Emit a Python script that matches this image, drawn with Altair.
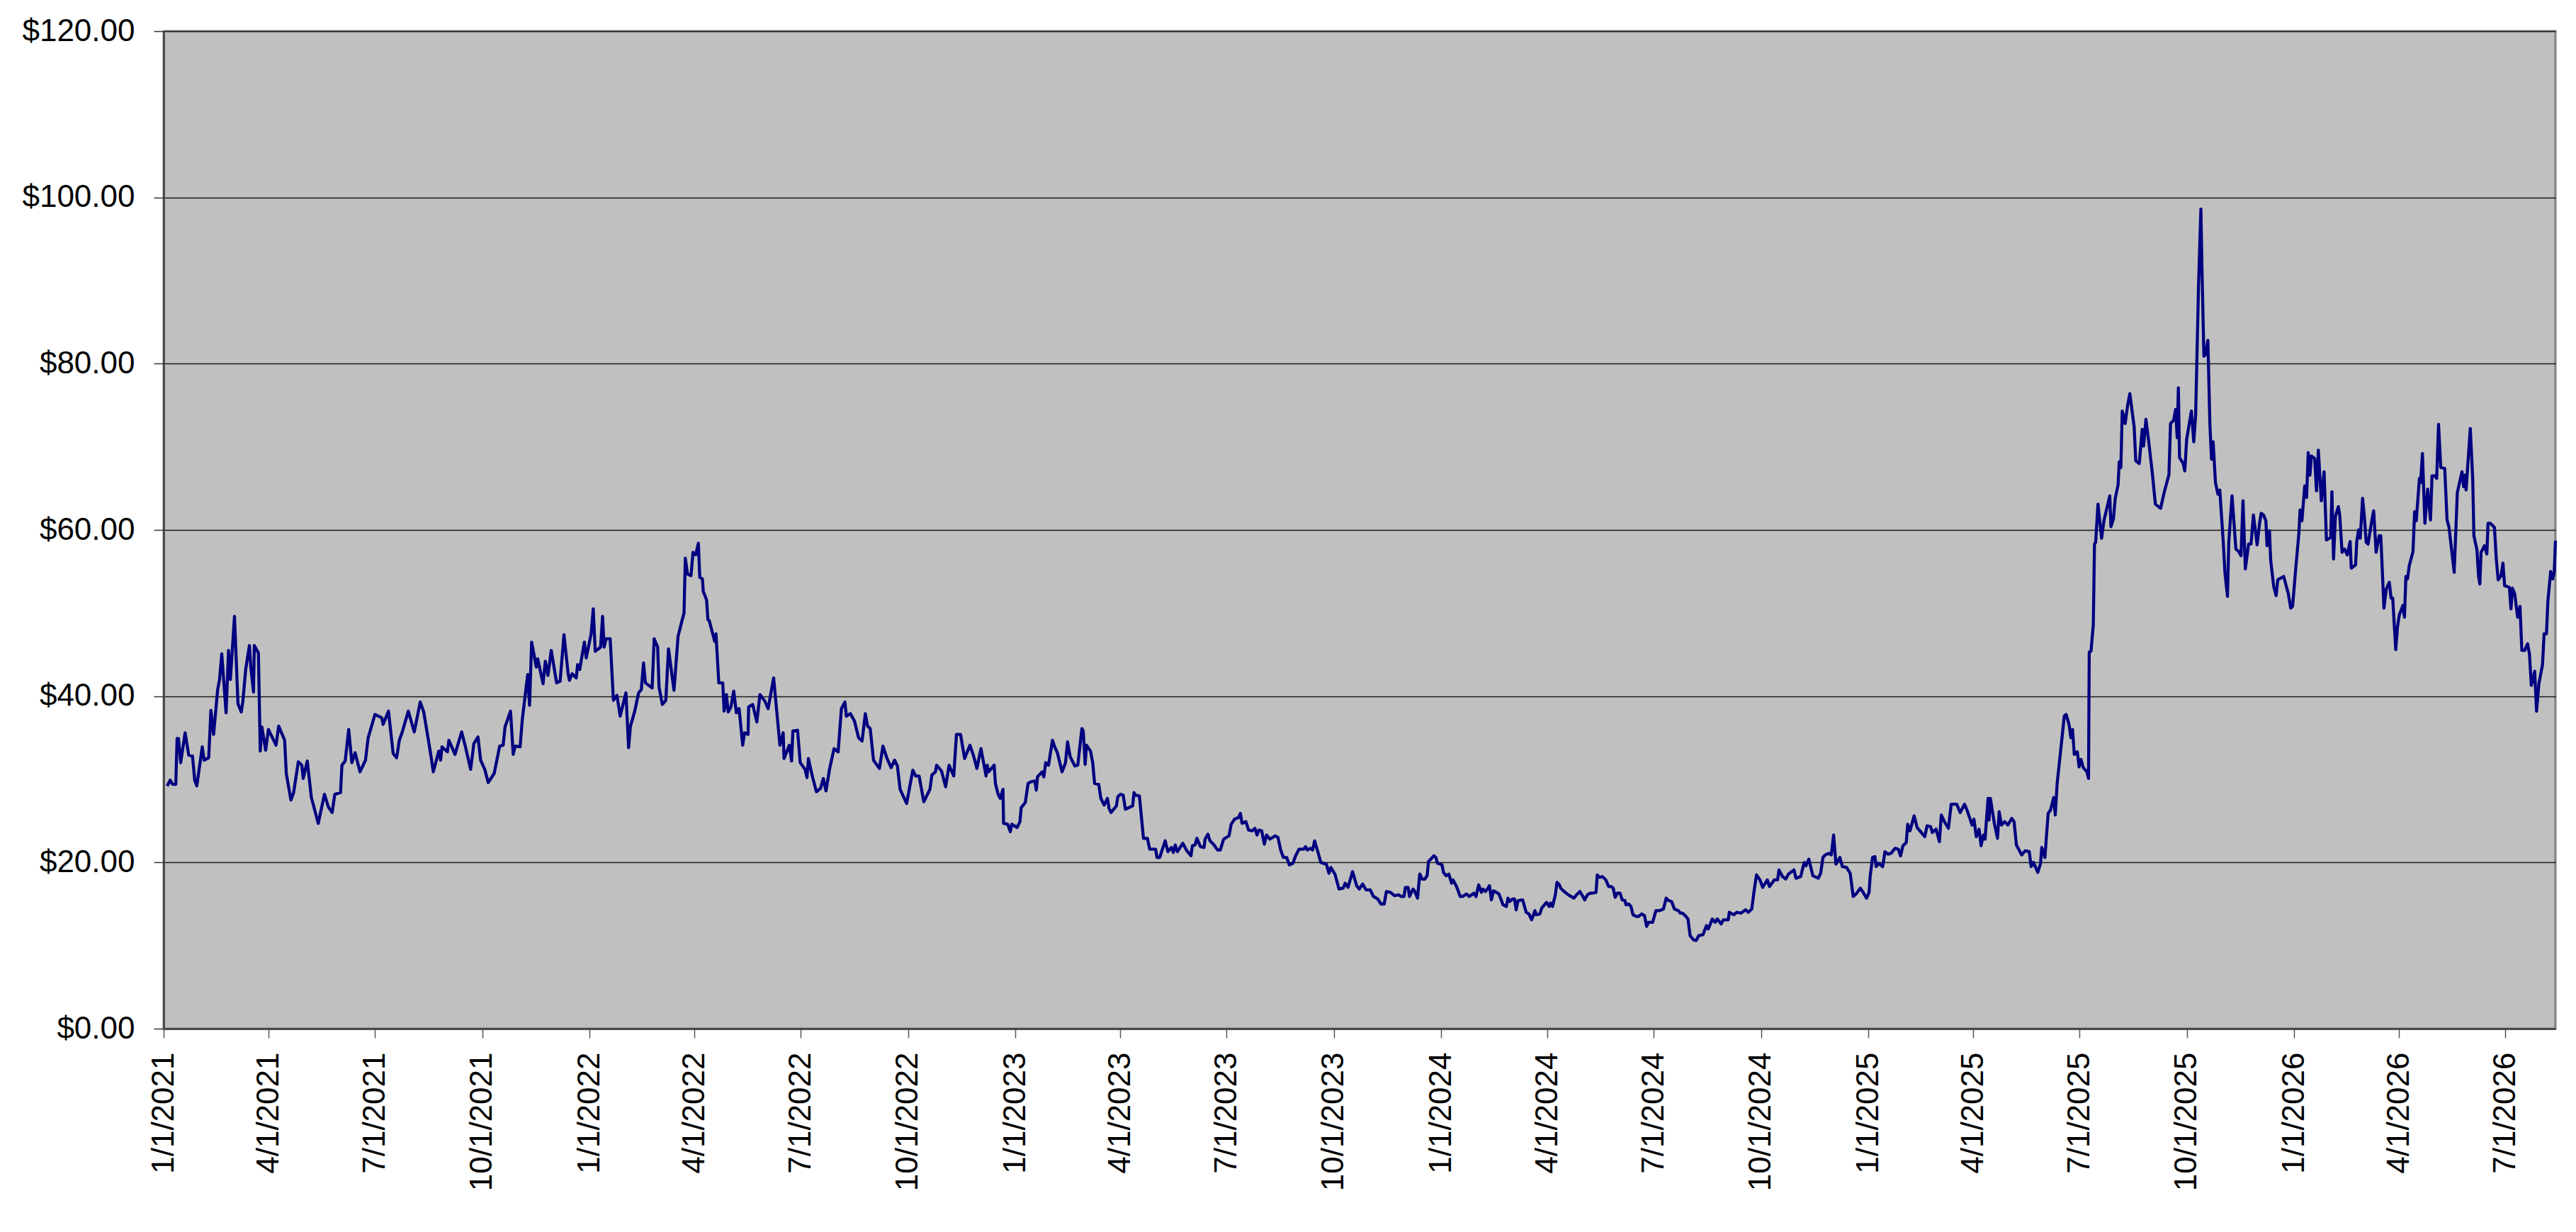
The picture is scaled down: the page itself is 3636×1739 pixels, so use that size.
import altair as alt
import pandas as pd

# ---- data (day offset from 1/1/2021, price in $) ----
days_a = [3, 5.6, 7.6, 10.4, 11.5, 12.7, 14.6, 18.4, 21.5, 24.7,
          26.6, 28.4, 33.1, 34.7, 38.6, 40.5, 42.8, 46.3, 47.9, 49.8,
          53.5, 55.6, 57.2, 60.7, 63.7, 66.5, 67.9, 70.3, 73.5, 74.7,
          77.0, 77.7, 81.2, 82.8, 84.2, 87.4, 89.8, 96.3, 98.6, 103.7,
          105.1, 109.1, 111.4, 115.4, 118.4, 119.6, 123.1, 126.6, 132.5, 137.8,
          141.1, 144.4, 146.7, 151.6, 152.8, 155.6, 158.6, 161.3, 164.1, 168.3,
          173.0, 175.3, 181.1, 186.9, 188.1, 192.7, 196.7, 199.7, 202.0, 204.3,
          209.7, 214.8, 219.9, 222.9, 228.8, 231.1, 235.8, 237.4, 238.6, 243.2,
          244.5, 249.7, 255.4, 258.5, 263.1, 265.9, 269.4, 271.7, 275.2, 278.2,
          283.3, 288.0, 291.0, 292.6, 297.3, 299.6, 301.3, 305.5, 307.4, 312.0,
          313.6, 315.4, 319.4, 320.6, 325.2, 327.1, 329.4, 332.2, 336.8, 339.8,
          343.1]
prices_a = [29.2, 29.9, 29.4, 29.4, 34.9, 34.9, 32.0, 35.6, 32.9, 32.8,
            29.9, 29.2, 33.9, 32.3, 32.6, 38.3, 35.4, 40.8, 42.0, 45.1,
            38.0, 45.5, 42.0, 49.6, 39.1, 38.1, 39.4, 43.2, 46.1, 43.5,
            40.5, 46.1, 45.2, 33.4, 36.3, 33.5, 36.0, 34.1, 36.4, 34.7,
            30.7, 27.5, 28.4, 32.1, 31.7, 30.1, 32.2, 27.8, 24.7, 28.2,
            26.7, 26.0, 28.2, 28.4, 31.7, 32.2, 36.0, 32.0, 33.2, 30.9,
            32.3, 35.0, 37.8, 37.4, 36.6, 38.2, 33.1, 32.6, 34.7, 35.6,
            38.2, 35.7, 39.3, 38.1, 33.1, 30.9, 33.4, 32.3, 33.9, 33.3,
            34.7, 33.0, 35.7, 34.0, 31.2, 34.3, 35.1, 32.3, 31.2, 29.6,
            30.7, 34.0, 34.1, 36.3, 38.2, 33.0, 34.0, 33.9, 37.2, 42.6,
            38.9, 46.5, 43.5, 44.5, 41.5, 44.2, 42.5, 45.5, 41.6, 41.8,
            47.4]

days_b = [346.6, 347.8, 350.1, 353.6, 354.8, 356.6, 360.6, 362.2, 366.4, 368.2,
          369.9, 374.5, 376.2, 377.5, 379.2, 382.7, 385.5, 388.5, 391.3, 396.2,
          398.5, 400.1, 403.6, 407.1, 409.4, 411.3, 412.9, 418.7, 420.4, 423.4,
          424.6, 427.4, 430.4, 432.7, 437.4, 440.9, 444.3, 446.0, 447.1, 449.0,
          452.0, 453.7, 456.0, 458.3, 459.5, 461.8, 462.5, 465.3, 466.5, 467.6,
          472.3, 473.4, 475.8, 479.2, 480.4, 482.3, 483.9, 486.2, 488.6, 490.9,
          493.2, 496.3, 497.9, 500.9, 501.4, 504.9, 508.4, 511.1, 515.3, 518.1,
          522.8, 528.2, 531.0, 531.7, 536.3, 538.2, 539.3, 543.3, 545.6, 549.8,
          551.4, 552.6, 556.1, 559.5, 563.0, 565.4, 567.7, 570.7, 574.6, 578.1,
          580.9, 583.9, 585.1, 588.6, 592.1, 595.6, 598.6, 601.4, 603.3, 605.6,
          608.4, 613.5, 616.5, 620.0, 623.5, 626.5, 628.9, 631.2, 636.8, 642.1,
          644.5, 647.5, 651.5, 656.8, 658.4, 661.5, 662.5, 666.7, 670.2, 673.2,
          677.2, 679.5, 683.0, 686.5, 691.1, 694.2, 697.0, 700.5]
prices_b = [42.8, 41.9, 42.7, 42.2, 43.8, 43.2, 46.5, 44.6, 47.5, 50.5,
            45.4, 45.9, 49.6, 45.9, 46.9, 46.9, 39.5, 40.1, 37.6, 40.4,
            33.8, 36.4, 38.1, 40.4, 40.8, 44.0, 41.6, 41.0, 46.9, 45.9,
            41.1, 39.0, 39.5, 45.7, 40.7, 47.2, 49.1, 50.0, 56.6, 54.7,
            54.5, 57.3, 57.0, 58.4, 54.3, 54.1, 52.6, 51.6, 49.2, 49.1,
            46.6, 47.5, 41.6, 41.6, 38.2, 40.2, 38.1, 38.7, 40.6, 38.0,
            38.5, 34.1, 35.6, 35.4, 38.7, 39.0, 36.9, 40.2, 39.4, 38.5,
            42.2, 34.1, 35.6, 32.5, 34.1, 32.2, 35.8, 35.9, 32.0, 31.2,
            30.2, 32.5, 30.3, 28.5, 28.9, 30.1, 28.6, 31.2, 33.7, 33.3,
            38.5, 39.3, 37.6, 37.9, 37.0, 35.0, 34.6, 37.9, 36.4, 36.1,
            32.3, 31.3, 34.0, 32.5, 31.4, 32.3, 31.6, 28.8, 27.1, 31.1,
            30.4, 30.4, 27.3, 28.8, 30.5, 30.9, 31.7, 31.0, 29.1, 31.7,
            30.4, 35.4, 35.4, 32.5, 34.1, 32.8, 31.3, 33.7]

days_c = [704.9, 705.9, 707.1, 711.8, 712.9, 715.2, 717.1, 719.4, 719.9, 723.4,
          725.7, 726.9, 731.5, 733.9, 735.0, 738.5, 740.9, 743.2, 746.7, 747.9,
          749.0, 753.0, 754.4, 756.0, 758.4, 761.8, 763.7, 766.0, 770.0, 773.0,
          774.7, 777.0, 781.0, 783.5, 787.0, 788.2, 789.8, 791.0, 794.4, 796.3,
          797.9, 801.4, 803.3, 806.1, 808.9, 810.3, 812.0, 816.6, 817.8, 820.1,
          822.4, 824.3, 830.5, 831.7, 832.8, 836.3, 839.8, 843.2, 845.1, 850.2,
          851.4, 853.7, 858.4, 860.7, 863.7, 865.4, 867.0, 868.9, 873.5, 877.0,
          880.5, 881.7, 884.0, 885.6, 888.6, 891.7, 892.6, 895.0, 896.8, 900.3,
          903.3, 905.7, 908.5, 913.1, 915.0, 917.8, 921.3, 922.9, 924.3, 927.6,
          929.9, 932.9, 935.3, 937.1, 938.8, 941.1, 943.4, 945.3, 948.1, 952.7,
          955.1, 957.4, 959.7, 962.5, 964.8, 967.9, 970.2, 973.2, 977.2, 978.8,
          980.2, 983.0, 984.8, 986.5, 988.8, 991.8, 996.5, 998.8, 1000.4, 1003.9,
          1007.4, 1010.9, 1012.7, 1015.1, 1019.0, 1022.5, 1024.8, 1027.6, 1030.6, 1034.1,
          1036.9, 1040.6, 1043.4, 1046.1, 1048.0, 1051.5, 1055.0, 1058.5, 1060.8]
prices_c = [30.4, 31.7, 30.9, 31.7, 29.5, 28.2, 27.7, 28.8, 24.7, 24.6,
            23.7, 24.6, 24.2, 24.9, 26.6, 27.2, 29.5, 29.7, 29.8, 28.7,
            30.3, 30.9, 30.3, 32.0, 31.7, 34.7, 33.9, 33.2, 30.9, 32.0,
            34.5, 32.7, 31.6, 31.7, 36.1, 35.8, 31.8, 34.1, 33.4, 32.0,
            29.5, 29.4, 27.7, 26.9, 27.7, 26.5, 26.0, 26.8, 27.9, 28.2,
            28.1, 26.4, 26.8, 28.4, 28.1, 28.0, 22.9, 22.9, 21.6, 21.6,
            20.6, 20.6, 22.6, 21.3, 21.8, 21.2, 22.1, 21.3, 22.3, 21.4,
            20.8, 22.0, 22.1, 22.9, 21.9, 21.8, 22.8, 23.4, 22.6, 22.1,
            21.5, 21.5, 22.8, 23.2, 24.6, 25.2, 25.4, 25.9, 24.7, 24.9,
            23.9, 23.8, 24.1, 23.3, 23.9, 23.8, 22.2, 23.3, 22.8, 23.2,
            23.0, 21.5, 20.6, 20.6, 19.7, 19.9, 20.8, 21.6, 21.6, 21.9,
            21.5, 21.7, 21.5, 22.6, 21.5, 20.0, 19.8, 18.7, 19.4, 18.6,
            16.8, 16.9, 17.5, 17.0, 18.9, 17.2, 16.8, 17.4, 16.7, 16.7,
            15.9, 15.6, 15.0, 15.0, 16.5, 16.4, 16.0, 16.1, 15.9]

days_d = [1063.1, 1064.3, 1066.6, 1067.8, 1070.8, 1072.4, 1074.7, 1076.6, 1078.7, 1081.0,
          1082.9, 1084.1, 1088.7, 1090.4, 1091.8, 1095.7, 1096.9, 1099.2, 1101.5, 1103.9,
          1105.1, 1108.1, 1111.3, 1113.2, 1116.7, 1119.0, 1122.9, 1124.8, 1127.1, 1129.4,
          1130.6, 1132.9, 1136.4, 1138.0, 1139.9, 1144.5, 1148.0, 1150.8, 1152.2, 1153.8,
          1156.2, 1157.8, 1159.2, 1160.8, 1164.8, 1167.8, 1170.2, 1172.5, 1175.3, 1176.4,
          1179.5, 1181.1, 1185.3, 1187.6, 1188.8, 1190.4, 1192.8, 1194.2, 1196.3, 1197.4,
          1201.2, 1204.0, 1206.3, 1208.6, 1211.0, 1213.8, 1215.6, 1218.0, 1220.3, 1222.6,
          1224.5, 1227.7, 1228.7, 1230.8, 1233.1, 1236.1, 1238.5, 1240.8, 1242.4, 1244.1,
          1245.9, 1248.3, 1250.1, 1252.5, 1253.4, 1255.7, 1257.6, 1259.4, 1262.2, 1264.1,
          1266.9, 1269.2, 1271.1, 1272.7, 1276.2, 1279.0, 1282.0, 1285.5, 1287.8, 1290.1,
          1292.5, 1294.8, 1298.3, 1299.9, 1301.8, 1304.1, 1306.5, 1308.3, 1311.1, 1313.4,
          1315.8, 1319.3, 1322.3, 1323.9, 1327.4, 1329.8, 1331.6, 1334.9, 1336.8, 1341.0,
          1341.9, 1345.6, 1348.4, 1351.9, 1355.9, 1358.2, 1361.2, 1362.8, 1365.2, 1368.2,
          1370.5, 1374.5, 1376.3, 1380.5, 1383.3, 1384.5, 1387.5, 1390.3, 1392.6, 1397.3,
          1399.1, 1403.1, 1406.1, 1407.7, 1410.1, 1413.5, 1418.2]
prices_d = [15.9, 17.0, 17.0, 15.9, 16.8, 16.5, 15.7, 18.6, 18.0, 18.0,
            18.4, 20.1, 20.8, 20.6, 19.9, 19.7, 18.8, 18.4, 18.6, 17.5,
            17.9, 17.1, 15.9, 15.9, 16.2, 15.9, 16.3, 15.9, 17.3, 16.4,
            16.8, 16.5, 17.2, 15.5, 16.6, 16.2, 14.9, 14.7, 15.7, 15.3,
            15.6, 15.6, 14.3, 15.4, 15.5, 14.0, 13.8, 13.1, 14.2, 13.7,
            13.8, 14.5, 15.2, 14.7, 15.1, 14.7, 16.1, 17.6, 17.3, 16.9,
            16.4, 16.1, 15.9, 15.7, 16.1, 16.5, 16.1, 15.5, 16.1, 16.3,
            16.3, 16.4, 18.5, 18.2, 18.3, 17.9, 17.1, 17.1, 16.9, 15.8,
            16.3, 16.3, 15.5, 15.4, 14.9, 15.0, 14.7, 13.7, 13.5, 13.5,
            13.8, 13.6, 12.3, 12.8, 12.8, 14.2, 14.2, 14.4, 15.7, 15.4,
            15.3, 14.4, 14.2, 13.9, 13.9, 13.6, 13.2, 11.2, 10.7, 10.6,
            11.2, 11.3, 12.4, 12.0, 13.2, 12.8, 13.2, 12.6, 13.1, 13.1,
            14.0, 13.7, 14.0, 13.9, 14.3, 14.0, 14.4, 16.2, 18.5, 17.9,
            17.0, 17.9, 17.1, 17.9, 17.9, 19.1, 18.3, 18.0, 18.6, 19.1,
            18.1, 18.3, 20.0, 19.6, 20.4, 18.4, 18.1]

days_e = [1420.2, 1422.2, 1424.2, 1427.2, 1429.3, 1431.3, 1433.3, 1436.7, 1438.8, 1442.4,
          1445.5, 1448.1, 1450.5, 1454.2, 1456.6, 1459.6, 1461.7, 1462.7, 1464.7, 1466.7,
          1467.8, 1469.8, 1473.4, 1475.3, 1477.9, 1480.6, 1484.0, 1486.7, 1488.7, 1490.7,
          1493.6, 1494.8, 1496.8, 1500.3, 1502.9, 1505.3, 1509.4, 1511.4, 1514.5, 1515.9,
          1519.1, 1522.0, 1523.6, 1526.7, 1529.7, 1532.1, 1536.8, 1539.8, 1543.5, 1545.9,
          1550.0, 1551.6, 1553.6, 1556.0, 1557.7, 1559.7, 1561.1, 1563.7, 1564.5, 1565.7,
          1569.2, 1571.8, 1573.2, 1575.2, 1577.9, 1580.7, 1584.0, 1586.0, 1588.0, 1592.5,
          1595.5, 1599.0, 1600.6, 1602.6, 1606.3, 1608.7, 1609.7, 1612.4, 1615.2, 1617.2,
          1619.9, 1621.3, 1622.9, 1627.0, 1629.0, 1630.6, 1633.1, 1634.7, 1636.1, 1637.6,
          1640.2, 1641.7, 1643.3, 1645.3, 1648.4, 1649.8]
prices_e = [18.7, 20.6, 20.9, 21.1, 20.9, 23.3, 19.8, 20.6, 19.5, 19.4,
            18.7, 15.9, 16.2, 16.9, 16.4, 15.7, 16.4, 18.4, 20.6, 20.7,
            19.5, 19.9, 19.5, 21.3, 21.0, 21.1, 21.7, 21.6, 20.8, 22.0,
            22.4, 24.6, 23.8, 25.6, 24.2, 23.8, 23.1, 24.4, 24.3, 23.6,
            24.0, 22.5, 25.7, 24.8, 24.1, 27.0, 27.0, 26.0, 27.0, 26.2,
            24.5, 25.2, 23.1, 24.0, 22.0, 23.3, 22.8, 27.7, 25.1, 27.7,
            24.6, 22.9, 26.1, 24.5, 24.9, 24.5, 25.3, 24.9, 22.1, 20.9,
            21.4, 21.3, 19.5, 20.0, 18.8, 19.9, 21.8, 20.6, 25.9, 26.3,
            27.8, 25.7, 29.5, 34.9, 37.6, 37.8, 36.6, 35.0, 36.0, 33.0,
            33.3, 31.5, 32.4, 31.4, 30.9, 30.1]

days_f = [1650.4, 1651.9, 1653.9, 1654.9, 1655.9, 1657.9, 1661.0, 1663.0, 1668.0, 1669.0,
          1671.1, 1672.7, 1675.1, 1676.1, 1677.5, 1678.7, 1681.2, 1683.2, 1685.2, 1688.9,
          1690.3, 1693.3, 1695.8, 1697.0, 1699.0, 1701.5, 1704.5, 1707.1, 1711.6, 1714.6,
          1717.3, 1718.7, 1720.1, 1722.8, 1724.4, 1725.8, 1726.8, 1727.8, 1730.9, 1732.3,
          1733.9, 1738.0, 1740.0, 1741.6, 1744.1, 1746.1, 1747.1, 1748.7, 1750.1, 1752.1,
          1753.8, 1755.2, 1756.6, 1758.6, 1760.7, 1762.3, 1765.3, 1766.7, 1768.9, 1770.0,
          1772.8, 1776.1, 1778.5, 1780.5, 1782.2, 1784.2, 1787.0, 1789.1, 1791.1, 1794.3,
          1796.4, 1797.8, 1799.8, 1801.8, 1802.8, 1804.9, 1805.9, 1808.5, 1810.6, 1812.0,
          1817.1, 1821.1, 1823.1, 1824.7]
prices_f = [45.3, 45.4, 48.6, 58.3, 58.5, 63.1, 59.0, 61.1, 64.1, 60.4,
            61.3, 63.8, 65.4, 68.2, 67.5, 74.3, 72.8, 74.9, 76.4, 72.4,
            68.3, 68.0, 72.1, 70.1, 73.3, 70.5, 66.8, 63.1, 62.6, 64.5,
            65.9, 66.6, 72.8, 73.2, 74.5, 71.1, 77.1, 68.7, 68.0, 67.1,
            70.9, 74.3, 70.6, 73.8, 89.5, 98.6, 90.9, 80.9, 81.1, 82.8,
            72.8, 68.5, 70.6, 65.7, 64.3, 64.8, 58.5, 54.9, 52.0, 58.5,
            64.1, 57.7, 57.4, 56.9, 63.5, 55.3, 58.3, 58.3, 61.8, 58.2,
            60.8, 62.0, 61.8, 61.1, 58.1, 59.9, 56.4, 53.2, 52.1, 54.0,
            54.4, 52.3, 50.6, 50.8]

days_g = [1827.0, 1830.1, 1831.1, 1832.7, 1835.1, 1836.7, 1838.1, 1839.6, 1840.8, 1843.6,
          1845.2, 1846.8, 1849.3, 1851.7, 1853.7, 1857.4, 1858.4, 1859.8, 1861.4, 1863.9,
          1865.1, 1867.1, 1869.2, 1871.6, 1874.0, 1875.0, 1878.7, 1879.7, 1881.3, 1882.7,
          1884.7, 1886.2, 1887.8, 1889.4, 1892.2, 1894.2, 1896.3, 1898.9, 1900.3, 1903.0,
          1905.0, 1907.6, 1909.1, 1910.5, 1913.1, 1914.6, 1916.2, 1919.2, 1920.6, 1921.8,
          1923.2, 1924.7, 1927.9, 1929.3, 1930.7, 1933.4, 1934.4, 1936.0, 1938.1, 1940.5,
          1942.9, 1944.2, 1946.6, 1948.2, 1949.8, 1951.7, 1955.1, 1957.1, 1958.8, 1963.2,
          1965.9, 1969.9, 1971.3, 1972.6, 1973.4, 1977.0, 1979.1, 1980.1, 1982.7, 1984.1,
          1985.2, 1986.2, 1989.2, 1991.2, 1992.2, 1994.3, 1997.7, 1999.3, 2000.9, 2003.4,
          2005.0, 2006.4, 2010.5, 2011.9, 2013.1, 2015.1, 2017.6, 2019.6, 2021.2, 2023.6,
          2026.1, 2027.7, 2029.3, 2030.7, 2032.2, 2033.8, 2035.8, 2038.9, 2040.3, 2042.3,
          2043.5, 2045.9, 2047.6, 2049.0, 2050.0]
prices_g = [54.7, 59.6, 62.4, 61.1, 65.3, 63.9, 69.3, 66.6, 68.9, 68.6,
            64.7, 69.6, 63.5, 67.0, 58.8, 59.1, 64.6, 56.5, 61.6, 62.8,
            61.8, 57.3, 57.7, 57.0, 58.6, 55.4, 55.8, 58.6, 60.0, 59.0,
            63.8, 61.6, 58.5, 58.3, 60.8, 62.3, 57.3, 59.3, 59.3, 50.6,
            52.9, 53.7, 51.8, 51.8, 45.6, 48.3, 49.8, 50.9, 49.5, 54.4,
            54.1, 55.7, 57.4, 62.2, 61.1, 66.2, 65.7, 69.2, 60.8, 64.9,
            61.2, 66.5, 66.5, 66.2, 72.7, 67.5, 67.4, 61.2, 60.3, 54.9,
            64.5, 67.0, 65.2, 66.6, 64.8, 72.2, 66.1, 59.3, 57.6, 54.4,
            53.5, 57.3, 58.1, 57.1, 60.8, 60.8, 60.3, 56.5, 54.0, 54.5,
            56.0, 53.3, 53.1, 50.5, 53.0, 52.3, 49.5, 50.8, 45.5, 45.5,
            46.3, 45.1, 41.3, 42.0, 43.0, 38.2, 41.5, 43.8, 47.5, 47.5,
            51.4, 55.0, 54.1, 55.0, 58.7]

# axis tick dates (quarterly) and y tick values
tick_dates = ["2021-01-01", "2021-04-01", "2021-07-01", "2021-10-01",
              "2022-01-01", "2022-04-01", "2022-07-01", "2022-10-01",
              "2023-01-01", "2023-04-01", "2023-07-01", "2023-10-01",
              "2024-01-01", "2024-04-01", "2024-07-01", "2024-10-01",
              "2025-01-01", "2025-04-01", "2025-07-01", "2025-10-01",
              "2026-01-01", "2026-04-01", "2026-07-01"]
y_ticks = [0, 20, 40, 60, 80, 100, 120]
x_start = "2021-01-01"
x_end = "2026-08-13"

# ---- build table ----
days = days_a + days_b + days_c + days_d + days_e + days_f + days_g
prices = prices_a + prices_b + prices_c + prices_d + prices_e + prices_f + prices_g
base = pd.Timestamp(x_start)
df = pd.DataFrame({
    "date": base + pd.to_timedelta(days, unit="D"),
    "price": prices,
})


def to_dt(s):
    return alt.DateTime(year=int(s[:4]), month=int(s[5:7]), date=int(s[8:10]))


FONT = "Liberation Sans"

chart = alt.Chart(df).mark_line(
    color="#000080", strokeWidth=4.3, strokeJoin="round"
).encode(
    x=alt.X(
        "date:T",
        scale=alt.Scale(domain=[to_dt(x_start), to_dt(x_end)], nice=False),
        axis=alt.Axis(
            values=[to_dt(s) for s in tick_dates],
            format="%-m/%-d/%Y",
            labelAngle=270,
            labelAlign="right",
            labelBaseline="middle",
            labelPadding=20,
            labelFlush=False,
            labelOverlap=False,
            labelLimit=0,
            labelFont=FONT,
            labelFontSize=44,
            labelColor="#000000",
            tickSize=13,
            tickColor="#555555",
            tickWidth=1.5,
            domainColor="#404040",
            domainWidth=2.5,
            grid=False,
            title=None,
        ),
    ),
    y=alt.Y(
        "price:Q",
        scale=alt.Scale(domain=[0, 120], nice=False, zero=True),
        axis=alt.Axis(
            values=y_ticks,
            format="$.2f",
            labelPadding=27,
            labelLimit=0,
            labelFont=FONT,
            labelFontSize=44,
            labelColor="#000000",
            tickSize=14,
            tickColor="#333333",
            tickWidth=1.5,
            domainColor="#404040",
            domainWidth=2.5,
            grid=True,
            gridColor="#1a1a1a",
            gridWidth=1.3,
            title=None,
        ),
    ),
).properties(
    width=3376,
    height=1408,
    autosize=alt.AutoSizeParams(type="none"),
    padding={"left": 223, "top": 36, "right": 20, "bottom": 270},
    background="#ffffff",
).configure_view(
    fill="#C0C0C0",
    stroke="#808080",
    strokeWidth=3,
)

chart.save("out.html", embed_options={"renderer": "svg", "actions": False})
